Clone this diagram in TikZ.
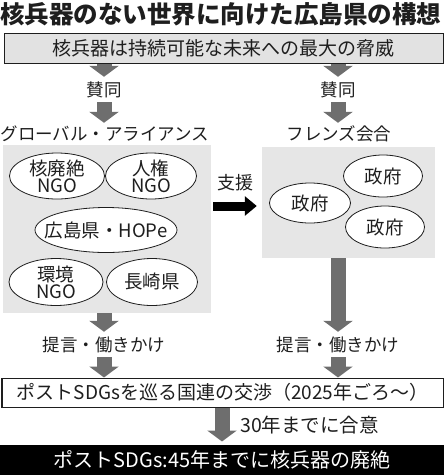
\documentclass[tikz,border=0pt]{standalone}
\usepackage{fontspec}
\usepackage{xcolor}
\usetikzlibrary{arrows.meta,positioning,shapes.geometric,calc}
\newfontfamily\cjk{Noto Sans CJK JP}
\definecolor{ink}{HTML}{1E1E1E}
\definecolor{arrgray}{HTML}{6E6E6E}
\definecolor{boxgray}{HTML}{E2E2E2}
\definecolor{panelgray}{HTML}{E6E6E6}

\begin{document}
\begin{tikzpicture}[
    x=1pt, y=-1pt,
    font=\cjk\fontsize{18pt}{18pt}\selectfont,
    text=ink,
    box/.style={
        draw=ink,
        line width=1pt,
        inner sep=0pt,
        minimum height=30pt,
        font=\cjk\fontsize{19pt}{19pt}\selectfont
    },
    panel/.style={fill=panelgray, inner sep=0pt},
    oval/.style={
        ellipse,
        draw=ink,
        line width=0.8pt,
        fill=white,
        align=center,
        inner xsep=-12pt,
        inner ysep=-4pt,
        font=\cjk\fontsize{18.5pt}{17pt}\selectfont
    },
    lbl/.style={inner sep=0pt, font=\cjk\fontsize{17.5pt}{18pt}\selectfont},
    line/.style={color=arrgray, line width=15pt, -{Triangle[length=11pt, width=29pt]}},
    push/.style={color=black, line width=9pt, -{Triangle[length=12pt, width=19pt]}}
]
\useasboundingbox (0,0) rectangle (444,475);

% --- Title ---
\node[font=\cjk\bfseries\fontsize{24.5pt}{25pt}\selectfont] (title) at (221,14)
    {核兵器のない世界に向けた広島県の構想};

% --- Threat ---
\node[box, fill=boxgray, minimum width=439pt] (threat) at (223.5,48)
    {核兵器は持続可能な未来への最大の脅威};

% --- Agreement ---
\node[lbl, minimum height=25pt] (agreeL) at (104,89.5) {賛同};
\node[lbl, minimum height=25pt] (agreeR) at (338,89.5) {賛同};
\node[lbl, minimum height=22pt] (alliance) at (105,134) {グローバル・アライアンス};
\node[lbl, minimum height=22pt] (friends) at (339,134) {フレンズ会合};

\draw[line] (threat.south -| agreeL) -- (agreeL.north);
\draw[line] (threat.south -| agreeR) -- (agreeR.north);
\draw[line] (agreeL.south) -- (agreeL.south |- alliance.north);
\draw[line] (agreeR.south) -- (agreeR.south |- friends.north);

% --- Global alliance ---
\node[panel, minimum width=208pt, minimum height=168pt] (allybox) at (107,229) {};
\node[oval, minimum width=95pt, minimum height=46pt] (nucngo) at (57,176) {核廃絶\\NGO};
\node[oval, minimum width=91pt, minimum height=46pt] (rightsngo) at (151,176) {人権\\NGO};
\node[oval, minimum width=142pt, minimum height=45pt] (hope) at (106,230) {広島県・HOPe};
\node[oval, minimum width=94pt, minimum height=47pt] (envngo) at (56,282) {環境\\NGO};
\node[oval, minimum width=91pt, minimum height=47pt] (nagasaki) at (152,282) {長崎県};

% --- Friends meeting ---
\node[panel, minimum width=173pt, minimum height=111pt] (friendbox) at (348.5,202.5) {};
\node[oval, minimum width=79pt, minimum height=42pt] (govA) at (383,176) {政府};
\node[oval, minimum width=81pt, minimum height=40pt] (govB) at (310,203) {政府};
\node[oval, minimum width=79pt, minimum height=42pt] (govC) at (385,227) {政府};

% --- Support ---
\node[lbl, font=\cjk\fontsize{18pt}{18pt}\selectfont] (support) at (235,183) {支援};
\coordinate (pushy) at (0,206);
\draw[push, shorten <=2pt, shorten >=5pt] (allybox.east |- pushy) -- (friendbox.west |- pushy);

% --- Proposals ---
\node[lbl, minimum height=25pt] (propL) at (104,344.5) {提言・働きかけ};
\node[lbl, minimum height=25pt] (propR) at (338,344.5) {提言・働きかけ};
\draw[line] (allybox.south -| propL) -- (propL.north);
\draw[line] (friendbox.south -| propR) -- (propR.north);

% --- UN negotiation ---
\node[box, fill=white, minimum width=441pt, minimum height=29pt,
      font=\cjk\fontsize{19pt}{19pt}\selectfont] (un) at (222.5,392.5)
    {ポストSDGsを巡る国連の交渉（2025年ごろ～）};
\draw[line] (propL.south) -- (propL.south |- un.north);
\draw[line] (propR.south) -- (propR.south |- un.north);

% --- Goal ---
\node[box, fill=black, draw=black, text=white, minimum width=444pt,
      font=\cjk\fontsize{20pt}{20pt}\selectfont] (goal) at (222,460)
    {ポストSDGs:45年までに核兵器の廃絶};
\node[lbl, anchor=west, font=\cjk\fontsize{19.5pt}{19pt}\selectfont] (deal) at (240,425)
    {30年までに合意};
\draw[line] (un.south -| goal) -- ([yshift=3pt]goal.north);

\end{tikzpicture}
\end{document}
